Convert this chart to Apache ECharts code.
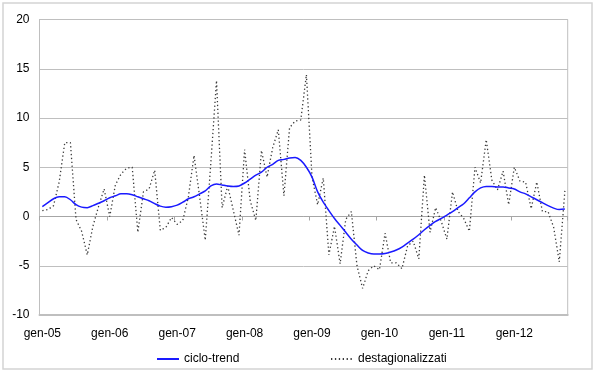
<!DOCTYPE html>
<html><head><meta charset="utf-8">
<script src="https://cdn.jsdelivr.net/npm/echarts@6/dist/echarts.min.js"></script>
<style>html,body{margin:0;padding:0;background:#fff}#c{width:600px;height:373px}</style>
</head><body><div id="c"></div>
<script>
// Category labels: monthly, gen-05 .. ott-12
const monthNames = ['gen','feb','mar','apr','mag','giu','lug','ago','set','ott','nov','dic'];
const years = ['05','06','07','08','09','10','11','12'];
const categories = [];
years.forEach(y => monthNames.forEach(m => categories.push(m + '-' + y)));
categories.length = 94;

const yTicks = [-10, -5, 0, 5, 10, 15, 20];

// ciclo-trend (blue)
const trend = [
  1.0, 1.4, 1.8, 2.0, 2.0, 1.7, 1.2, 0.95, 0.9, 1.1, 1.35, 1.6,
  1.9, 2.1, 2.3, 2.3, 2.2, 2.0, 1.8, 1.6, 1.3, 1.05, 0.95, 1.0,
  1.15, 1.45, 1.8, 2.0, 2.3, 2.6, 3.1, 3.3, 3.2, 3.1, 3.05, 3.1,
  3.4, 3.8, 4.2, 4.5, 5.0, 5.3, 5.7, 5.8, 5.95, 6.0, 5.7, 5.0,
  4.0, 2.5, 1.45, 0.6, -0.2, -0.9, -1.6, -2.3, -2.9, -3.45, -3.7, -3.8,
  -3.8, -3.75, -3.6, -3.4, -3.1, -2.7, -2.3, -1.85, -1.35, -0.9, -0.5, -0.2,
  0.15, 0.5, 0.9, 1.3, 1.9, 2.5, 2.9, 3.05, 3.05, 3.0, 3.0, 2.9,
  2.8, 2.5, 2.3, 2.0, 1.7, 1.4, 1.1, 0.85, 0.7, 0.75
];

// destagionalizzati (dotted)
const destag = [
  0.6, 0.7, 1.1, 3.5, 7.5, 7.5, -0.3, -1.5, -3.9, -1.0, 1.0, 2.8,
  0.0, 3.2, 4.3, 4.9, 5.0, -1.6, 2.5, 2.8, 4.7, -1.4, -1.1, -0.1,
  -0.8, -0.4, 2.0, 6.2, 2.0, -2.4, 5.5, 13.8, 0.9, 3.1, 0.6, -1.9,
  6.8, 1.6, -0.4, 6.7, 4.0, 7.0, 8.8, 2.1, 9.0, 9.7, 9.8, 14.4,
  4.0, 1.2, 3.9, -3.9, -1.0, -4.8, -0.3, 0.5, -5.0, -7.3, -5.5, -5.0,
  -5.4, -1.7, -4.7, -4.7, -5.3, -3.0, -2.5, -4.3, 4.2, -1.6, 0.9, -0.5,
  -2.3, 2.5, 0.5, -0.2, -1.5, 5.0, 3.4, 7.8, 3.7, 2.7, 4.6, 1.2,
  5.0, 3.6, 3.5, 0.8, 3.5, 0.5, 0.5, -1.1, -4.6, 2.6
];

const FONT = "'Liberation Sans', Arial, sans-serif";
const chart = echarts.init(document.getElementById('c'), null, {renderer: 'canvas'});
const legendBase = {top: 353, padding: 0, itemWidth: 22, itemHeight: 14, itemGap: 0,
  itemStyle: {opacity: 0},
  textStyle: {fontSize: 12, color: '#000', fontFamily: FONT}};
chart.setOption({
  animation: false,
  backgroundColor: '#fff',
  textStyle: {fontFamily: FONT},
  graphic: [{
    type: 'rect', silent: true, z: -1,
    shape: {x: 3, y: 3, width: 589, height: 366},
    style: {fill: 'none', stroke: '#d4d4d4', lineWidth: 1.5}
  }],
  grid: {left: 39.5, right: 32.3, top: 19.5, bottom: 58, show: true, borderColor: '#bfbfbf', borderWidth: 1},
  legend: [
    Object.assign({data: ['ciclo-trend'], left: 156}, legendBase),
    Object.assign({data: ['destagionalizzati'], left: 330}, legendBase)
  ],
  xAxis: [{
    type: 'category', data: categories, boundaryGap: true,
    axisLine: {onZero: true, lineStyle: {color: '#a6a6a6', width: 1}},
    axisTick: {show: true, interval: 11, length: 4, lineStyle: {color: '#a6a6a6'}},
    axisLabel: {show: false},
    splitLine: {show: false}
  }, {
    type: 'category', data: categories, boundaryGap: true, position: 'bottom',
    axisLine: {onZero: false, lineStyle: {color: '#bfbfbf', width: 2}},
    axisTick: {show: false},
    axisLabel: {interval: 11, margin: 13, fontSize: 12, color: '#000', fontFamily: FONT},
    splitLine: {show: false}
  }],
  yAxis: {
    type: 'value', min: yTicks[0], max: yTicks[yTicks.length - 1], interval: 5,
    axisLine: {show: true, lineStyle: {color: '#bfbfbf'}},
    axisTick: {show: false},
    axisLabel: {margin: 10, fontSize: 12, color: '#000', fontFamily: FONT},
    splitLine: {lineStyle: {color: '#bfbfbf', width: 1}}
  },
  series: [{
    name: 'ciclo-trend', type: 'line', data: trend, xAxisIndex: 0,
    symbol: 'none', smooth: 0.3, z: 3,
    lineStyle: {color: '#1a1aff', width: 1.5}, itemStyle: {color: '#1a1aff'}
  }, {
    name: 'destagionalizzati', type: 'line', data: destag, xAxisIndex: 0,
    symbol: 'none', z: 2,
    lineStyle: {color: '#3a3a3a', width: 1.3, type: [1.3, 2.6]}, itemStyle: {color: '#3a3a3a'}
  }]
});
</script></body></html>
